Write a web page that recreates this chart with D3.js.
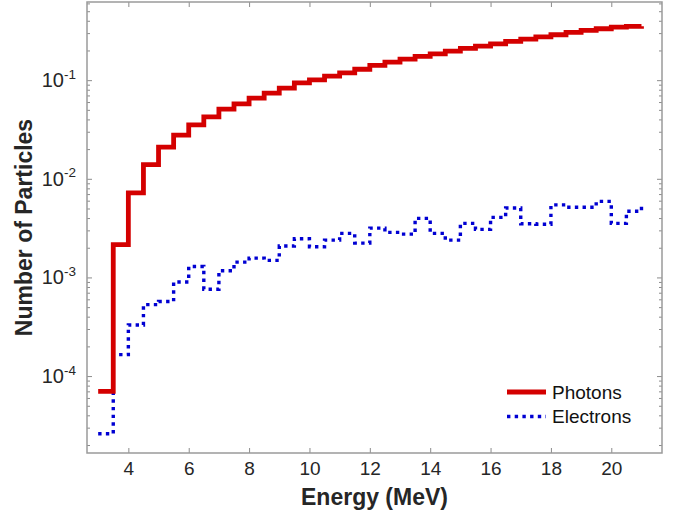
<!DOCTYPE html>
<html>

<head>
    <meta charset="utf-8">
    <style>
        body {
            margin: 0;
            background: white;
        }

        svg {
            font-family: 'Liberation Sans', Arial, Helvetica, sans-serif;
        }

        .tick text {
            fill: #262626;
        }

        .domain {
            display: none;
        }

        .axis-title {
            font-weight: bold;
            fill: #262626;
        }
    </style>
</head>

<body>
    <svg width="685" height="522"></svg>

    <script src="https://d3js.org/d3.v7.min.js"></script>

    <script>
        // bin edges (MeV) - stairs start at each edge
        let energy = [3, 3.5, 4, 4.5, 5, 5.5, 6, 6.5, 7, 7.5, 8, 8.5, 9, 9.5, 10, 10.5, 11, 11.5, 12,
            12.5, 13, 13.5, 14, 14.5, 15, 15.5, 16, 16.5, 17, 17.5, 18, 18.5, 19, 19.5, 20, 20.5, 21]

        let photons = [7.0e-5, 2.15e-3, 7.2e-3, 0.0139, 0.0209, 0.0277, 0.0352, 0.0425, 0.0508, 0.0575,
            0.0656, 0.0738, 0.083, 0.094, 0.1007, 0.110, 0.1186, 0.129, 0.141, 0.1524,
            0.1634, 0.174, 0.185, 0.197, 0.210, 0.2213, 0.2337, 0.247, 0.2607, 0.2752,
            0.2885, 0.305, 0.3197, 0.332, 0.345, 0.351, 0.353]

        let electrons = [2.6e-5, 1.65e-4, 3.3e-4, 5.3e-4, 5.7e-4, 9.0e-4, 1.29e-3, 7.6e-4, 1.17e-3, 1.43e-3,
            1.57e-3, 1.49e-3, 2.08e-3, 2.47e-3, 2.05e-3, 2.39e-3, 2.8e-3, 2.23e-3, 3.16e-3, 2.86e-3,
            2.75e-3, 3.97e-3, 2.8e-3, 2.39e-3, 3.53e-3, 3.07e-3, 4.06e-3, 5.06e-3, 3.5e-3, 3.46e-3,
            5.44e-3, 5.14e-3, 5.14e-3, 5.9e-3, 3.53e-3, 4.68e-3, 5.4e-3]

        let xTicks = [4, 6, 8, 10, 12, 14, 16, 18, 20]
        let yTicks = [1e-4, 1e-3, 1e-2, 1e-1]
        let yTickExp = ["-4", "-3", "-2", "-1"]

        let seriesNames = ["Photons", "Electrons"]
        let seriesColors = ["#d40000", "#0000d2"]

        let svg = d3.select("svg")

        let margin = { left: 87, right: 662, top: 2, bottom: 453 }

        let x = d3.scaleLinear().domain([2.63, 21.68]).range([margin.left, margin.right])
        let y = d3.scaleLog().domain([1.66e-5, 0.62]).range([margin.bottom, margin.top])

        // minor log ticks 2..9 in every decade
        let minor = []
        for (let p = -5; p <= -1; p++) {
            for (let m = 2; m <= 9; m++) {
                let v = m * Math.pow(10, p)
                if (v > y.domain()[0] && v < y.domain()[1]) minor.push(v)
            }
        }

        let tickColor = "#8c8c8c"

        // bottom axis, ticks pointing inward
        let xb = svg.append("g")
            .attr("class", "x axis")
            .attr("transform", `translate(0,${margin.bottom})`)
            .call(d3.axisBottom(x).tickValues(xTicks).tickSize(-5).tickPadding(9).tickFormat(d3.format("d")))
        xb.selectAll("text").style("font-size", "19px").attr("dy", "0.71em")
        xb.selectAll("line").attr("stroke", tickColor)

        // top axis, ticks only
        svg.append("g")
            .attr("transform", `translate(0,${margin.top})`)
            .call(d3.axisTop(x).tickValues(xTicks).tickSize(-5).tickFormat(""))
            .selectAll("line").attr("stroke", tickColor)

        // left & right major + minor ticks
        svg.append("g")
            .attr("transform", `translate(${margin.left},0)`)
            .call(d3.axisLeft(y).tickValues(yTicks).tickSize(-5).tickFormat(""))
            .selectAll("line").attr("stroke", tickColor)

        svg.append("g")
            .attr("transform", `translate(${margin.left},0)`)
            .call(d3.axisLeft(y).tickValues(minor).tickSize(-3).tickFormat(""))
            .selectAll("line").attr("stroke", tickColor)

        svg.append("g")
            .attr("transform", `translate(${margin.right},0)`)
            .call(d3.axisRight(y).tickValues(yTicks).tickSize(-5).tickFormat(""))
            .selectAll("line").attr("stroke", tickColor)

        svg.append("g")
            .attr("transform", `translate(${margin.right},0)`)
            .call(d3.axisRight(y).tickValues(minor).tickSize(-3).tickFormat(""))
            .selectAll("line").attr("stroke", tickColor)

        // y tick labels as 10^n
        let ylab = svg.append("g")
            .selectAll("text")
            .data(yTicks)
            .join("text")
            .attr("x", 76)
            .attr("y", d => y(d) + 7)
            .attr("text-anchor", "end")
            .attr("fill", "#262626")
            .style("font-size", "20px")
        ylab.append("tspan").text("10")
        ylab.append("tspan")
            .attr("dy", -8.5)
            .style("font-size", "13.5px")
            .text((d, i) => yTickExp[i])

        // frame
        svg.append("rect")
            .attr("x", margin.left)
            .attr("y", margin.top)
            .attr("width", margin.right - margin.left)
            .attr("height", margin.bottom - margin.top)
            .attr("fill", "none")
            .attr("stroke", "#9a9a9a")
            .attr("stroke-width", 1.5)

        let line = d3.line()
            .x(d => x(d[0]))
            .y(d => y(d[1]))
            .curve(d3.curveStepAfter)

        svg.append("path")
            .datum(energy.map((e, i) => [e, electrons[i]]))
            .attr("d", line)
            .attr("fill", "none")
            .attr("stroke", seriesColors[1])
            .attr("stroke-width", 3.4)
            .attr("stroke-dasharray", "3.4,4.3")

        svg.append("path")
            .datum(energy.map((e, i) => [e, photons[i]]))
            .attr("d", line)
            .attr("fill", "none")
            .attr("stroke", seriesColors[0])
            .attr("stroke-width", 4.8)

        // axis titles
        svg.append("text")
            .attr("class", "axis-title")
            .attr("x", (margin.left + margin.right) / 2)
            .attr("y", 505)
            .attr("text-anchor", "middle")
            .style("font-size", "23px")
            .text("Energy (MeV)")

        svg.append("text")
            .attr("class", "axis-title")
            .attr("transform", `translate(32,${(margin.top + margin.bottom) / 2}) rotate(-90)`)
            .attr("text-anchor", "middle")
            .style("font-size", "23px")
            .text("Number of Particles")

        // legend
        let legend = svg.append("g")
            .selectAll("g")
            .data(seriesNames)
            .join("g")
            .attr("transform", (d, i) => `translate(507,${392 + i * 24.5})`)

        legend.append("line")
            .attr("x1", 0)
            .attr("x2", 39)
            .attr("stroke", (d, i) => seriesColors[i])
            .attr("stroke-width", (d, i) => i == 0 ? 4.8 : 3.4)
            .attr("stroke-dasharray", (d, i) => i == 0 ? null : "3.4,4.3")

        legend.append("text")
            .attr("x", 45)
            .attr("y", 6.5)
            .attr("fill", "#111")
            .style("font-size", "19px")
            .text(d => d)
    </script>
</body>

</html>
